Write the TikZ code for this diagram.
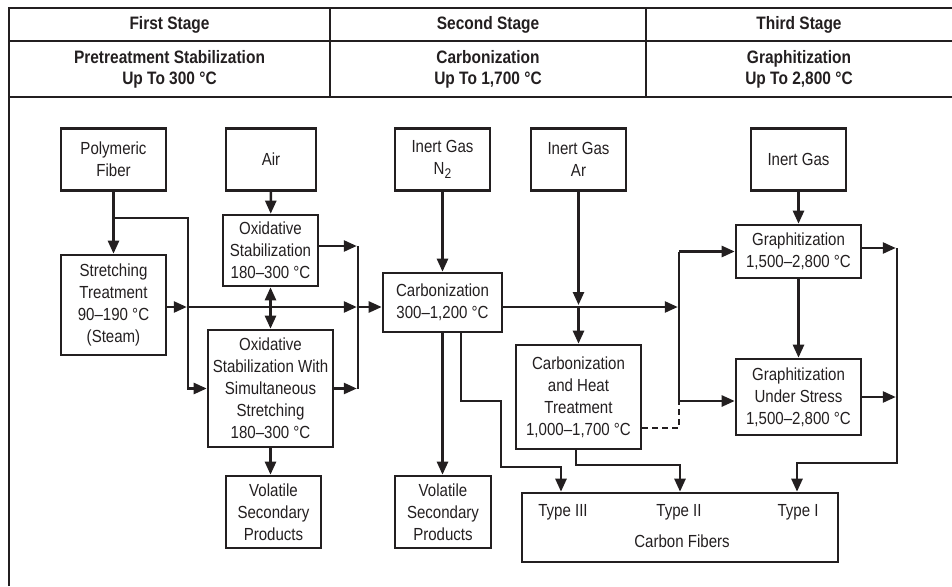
\documentclass[tikz,border=0pt]{standalone}
\usepackage{fontspec}
\setmainfont{Liberation Sans}[FakeStretch=0.86]
\usetikzlibrary{arrows.meta,calc}
\definecolor{ink}{HTML}{231F20}
\tikzset{
  box/.style={draw=ink, line width=2.6pt, text=ink, align=center, inner sep=0pt,
    font=\fontsize{17.5}{22}\selectfont},
  lbl/.style={text=ink, align=center, inner sep=0pt, font=\fontsize{17.5}{22}\selectfont},
  hdr/.style={text=ink, align=center, inner sep=0pt, font=\bfseries\fontsize{18}{21}\selectfont},
  con/.style={draw=ink, line width=2.5pt},
  hline/.style={draw=ink, line width=2.6pt},
  arr/.style={con, -{Triangle[length=13pt,width=11pt]}},
  darr/.style={con, {Triangle[length=13pt,width=11pt]}-{Triangle[length=13pt,width=11pt]}},
  dsh/.style={con, dash pattern=on 6pt off 4pt},
}
\begin{document}
\begin{tikzpicture}[x=1pt,y=-1pt]
\useasboundingbox (0,0) rectangle (952,586);
% header table
\draw[hline] (9,586) -- (9,8) -- (952,8);
\draw[hline] (9,41) -- (952,41);
\draw[hline] (9,97) -- (952,97);
\draw[hline] (330,8) -- (330,97);
\draw[hline] (646,8) -- (646,97);
\node[hdr] (h1) at (169.5,25) {First Stage};
\node[hdr] (h2) at (488,25) {Second Stage};
\node[hdr] (h3) at (799,25) {Third Stage};
\node[hdr] (h4) at (169.5,69) {Pretreatment Stabilization\\Up To 300 °C};
\node[hdr] (h5) at (488,69) {Carbonization\\Up To 1,700 °C};
\node[hdr] (h6) at (799,69) {Graphitization\\Up To 2,800 °C};
% boxes
\node[box, minimum width=105pt, minimum height=62pt] (pf) at (113.5,159.5) {Polymeric\\Fiber};
\node[box, minimum width=90pt, minimum height=62pt] (air) at (271,159.5) {Air};
\node[box, minimum width=95pt, minimum height=71pt] (os) at (270.5,250.5) {Oxidative\\Stabilization\\180–300 °C};
\node[box, minimum width=105pt, minimum height=100pt] (st) at (113.5,305) {Stretching\\Treatment\\90–190 °C\\(Steam)};
\node[box, minimum width=125pt, minimum height=117pt] (oss) at (270.5,388.5) {Oxidative\\Stabilization With\\Simultaneous\\Stretching\\180–300 °C};
\node[box, minimum width=95pt, minimum height=72pt] (v1) at (273.5,512) {Volatile\\Secondary\\Products};
\node[box, minimum width=95pt, minimum height=62pt] (n2) at (442.5,159.5) {Inert Gas\\N\raisebox{-4pt}{\fontsize{14}{14}\selectfont 2}};
\node[box, minimum width=95pt, minimum height=62pt] (ar) at (578.5,159.5) {Inert Gas\\Ar};
\node[box, minimum width=119pt, minimum height=59pt] (cb) at (442.5,302.5) {Carbonization\\300–1,200 °C};
\node[box, minimum width=125pt, minimum height=104pt] (ch) at (578.5,397) {Carbonization\\and Heat\\Treatment\\1,000–1,700 °C};
\node[box, minimum width=96pt, minimum height=72pt] (v2) at (443,512) {Volatile\\Secondary\\Products};
\node[box, minimum width=316pt, minimum height=69pt] (cf) at (680,527.5) {};
\node[lbl] (t3) at (563,512) {Type III};
\node[lbl] (t2) at (679,512) {Type II};
\node[lbl] (t1) at (798,512) {Type I};
\node[lbl] (cft) at (682,541) {Carbon Fibers};
\node[box, minimum width=95pt, minimum height=62pt] (ig) at (798.5,159.5) {Inert Gas};
\node[box, minimum width=125pt, minimum height=53pt] (gr) at (798.5,251.5) {Graphitization\\1,500–2,800 °C};
\node[box, minimum width=125pt, minimum height=76pt] (gus) at (798.5,397) {Graphitization\\Under Stress\\1,500–2,800 °C};
% junction coordinates
\coordinate (main) at (0,307);
\coordinate (bx) at (188,218);
\coordinate (vR) at (358,246);
\coordinate (vG) at (679,251);
\coordinate (gb) at (679,401);
\coordinate (dq) at (679,428);
\coordinate (vE) at (897,248);
\coordinate (qE) at (897,463);
\coordinate (p1) at (461,401);
\coordinate (p2) at (501,467);
\coordinate (p3) at (576,465);
\coordinate (t3c) at (561,0);
\coordinate (t2c) at (680,0);
\coordinate (t1c) at (797,0);
% first stage connectors
\draw[arr] (pf) -- (st);
\draw[arr] (pf.south |- bx) -- (bx) |- (oss.west);
\draw[arr] (air) -- (os);
\draw[darr] (os) -- (oss);
\draw[arr] (oss.south) -- (oss.south |- v1.north);
\draw[arr, shorten >=1.2pt] (st.east |- main) -- (bx |- main);
\draw[arr, shorten >=1.2pt] (bx |- main) -- (vR |- main);
\draw[arr] (vR |- main) -- (cb.west |- main);
\draw[arr, shorten >=1.2pt] (os.east |- vR) -- (vR);
\draw[con] (vR) -- (vR |- oss.east);
\draw[arr, shorten >=1.2pt] (oss.east) -- (vR |- oss.east);
% second stage connectors
\draw[arr] (n2) -- (cb);
\draw[arr] (cb.south) -- (cb.south |- v2.north);
\draw[arr] (cb.south -| p1) -- (p1) -| (p2) -| (t3c |- cf.north);
\draw[arr, shorten >=2pt] (ar) -- (ar |- main);
\draw[arr] (ar |- main) -- (ch);
\draw[arr, shorten >=1.2pt] (cb.east |- main) -- (vG |- main);
\draw[con] (vG |- gr.west) -- (gb);
\draw[arr] (vG |- gr.west) -- (gr.west);
\draw[arr] (gb) -- (gb -| gus.west);
\draw[dsh] (ch.east |- dq) -- (dq) -- (gb);
\draw[arr] (ch.south -| p3) -- (p3) -| (t2c |- cf.north);
% third stage connectors
\draw[arr] (ig) -- (gr);
\draw[arr] (gr) -- (gus);
\draw[arr, shorten >=1.2pt] (gr.east |- vE) -- (vE);
\draw[arr, shorten >=1.2pt] (gus.east) -- (gus.east -| vE);
\draw[arr] (vE) -- (qE) -| (t1c |- cf.north);
\end{tikzpicture}
\end{document}
